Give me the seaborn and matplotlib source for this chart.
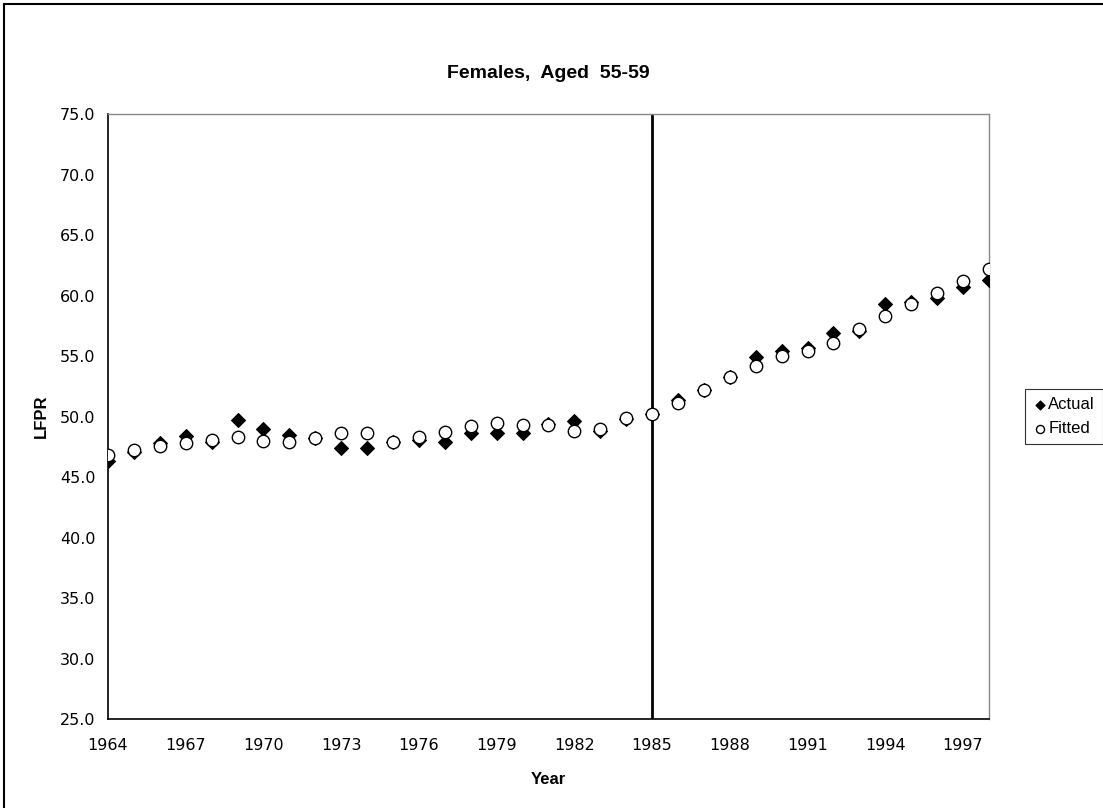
import numpy as np
import pandas as pd
import seaborn as sns
import matplotlib.pyplot as plt
from matplotlib.patches import Rectangle

# Data
years = list(range(1964, 1999))
actual = [46.3, 47.1, 47.8, 48.4, 47.9, 49.7, 49.0, 48.5, 48.2, 47.4,
          47.4, 47.9, 48.1, 47.9, 48.6, 48.6, 48.6, 49.4, 49.6, 48.8,
          49.8, 50.2, 51.4, 52.2, 53.3, 54.9, 55.4, 55.7, 56.9, 57.1,
          59.3, 59.5, 59.8, 60.7, 61.3]
fitted = [46.8, 47.2, 47.6, 47.8, 48.1, 48.3, 48.0, 47.9, 48.2, 48.6,
          48.6, 47.9, 48.3, 48.7, 49.2, 49.5, 49.3, 49.3, 48.8, 49.0,
          49.9, 50.2, 51.1, 52.2, 53.3, 54.2, 55.0, 55.4, 56.1, 57.2,
          58.3, 59.3, 60.2, 61.2, 62.2]
x_ticks = list(range(1964, 1998, 3))
y_ticks = [25, 30, 35, 40, 45, 50, 55, 60, 65, 70, 75]
break_year = 1985

df = pd.DataFrame({'Year': years, 'Actual': actual, 'Fitted': fitted})

sns.set_style('white')
plt.rcParams['font.family'] = ['Liberation Sans', 'DejaVu Sans']
plt.rcParams['text.color'] = 'black'
plt.rcParams['axes.labelcolor'] = 'black'

fig = plt.figure(figsize=(11.03, 8.08), dpi=100)
ax = fig.add_axes([0.0979, 0.1101, 0.7987, 0.7488])

sns.scatterplot(data=df, x='Year', y='Actual', marker='D', s=50,
                color='black', edgecolor='black', linewidth=0.8,
                label='Actual', ax=ax, zorder=3)
sns.scatterplot(data=df, x='Year', y='Fitted', marker='o', s=80,
                facecolor='white', edgecolor='black', linewidth=1.0,
                label='Fitted', ax=ax, zorder=4)
ax.axvline(break_year, color='black', lw=2, zorder=2)

ax.set_xlim(1964, 1998)
ax.set_ylim(25, 75)
ax.set_xticks(x_ticks)
ax.set_yticks(y_ticks)
ax.set_yticklabels([f'{v:.1f}' for v in y_ticks])
ax.tick_params(axis='x', direction='inout', length=9, width=1, pad=9,
               labelsize=12, colors='black')
ax.tick_params(axis='y', direction='out', length=4, width=1, pad=5,
               labelsize=12, colors='black')
for lab in ax.get_xticklabels() + ax.get_yticklabels():
    lab.set_fontfamily('DejaVu Sans')
    lab.set_fontsize(11.5)

for side in ['left', 'bottom']:
    ax.spines[side].set_color('black')
    ax.spines[side].set_linewidth(1.2)
for side in ['top', 'right']:
    ax.spines[side].set_color('#888888')
    ax.spines[side].set_linewidth(1)

ax.set_title('Females,  Aged  55-59', fontsize=14, fontweight='bold',
             pad=26, color='black')
ax.set_xlabel('Year', fontsize=12, fontweight='bold', labelpad=14)
ax.set_ylabel('LFPR', fontsize=12, fontweight='bold', labelpad=8)

leg = ax.legend(loc='center left', bbox_to_anchor=(1.041, 0.5), frameon=True,
                fontsize=12, handletextpad=0.05, borderpad=0.45,
                labelspacing=0.55, markerscale=0.65, handlelength=0.9,
                fancybox=False, borderaxespad=0)
leg.get_frame().set_edgecolor('black')
leg.get_frame().set_linewidth(0.8)
for t in leg.get_texts():
    t.set_color('black')

# outer chart border: only top and left fall inside the image
fig.patches.append(Rectangle((0.0036, -0.05), 1.1, 1.045, transform=fig.transFigure,
                             fill=False, edgecolor='black', lw=1.5))

fig.savefig('out.png', dpi=100)
plt.close()
